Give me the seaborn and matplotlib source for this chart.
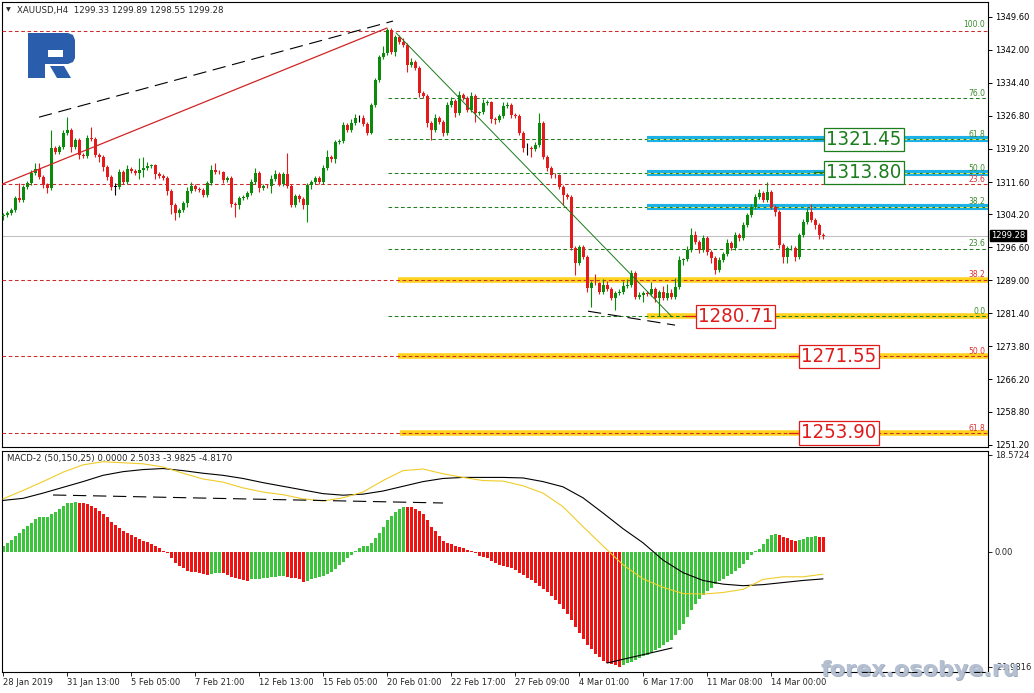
# %%
import numpy as np
import matplotlib.pyplot as plt
import seaborn as sns
from matplotlib import font_manager
from matplotlib.patches import Polygon, Rectangle

# %% candles (H4, one per bar, open = previous close)
first_open = 1303.8
closes = [
    1304.0, 1304.5, 1305.2, 1307.9, 1307.5, 1310.5, 1311.4, 1313.7, 1314.6, 1312.8,
    1310.9, 1310.2, 1319.4, 1318.5, 1319.6, 1322.9, 1323.6, 1319.6, 1321.3, 1317.8,
    1317.6, 1321.7, 1321.5, 1317.8, 1317.4, 1315.1, 1312.8, 1310.5, 1310.5, 1313.9,
    1311.6, 1314.6, 1314.1, 1313.7, 1314.4, 1314.8, 1315.3, 1315.4, 1313.4, 1313.0,
    1312.5, 1309.5, 1306.3, 1304.5, 1305.2, 1306.8, 1309.5, 1310.7, 1310.0, 1309.8,
    1308.6, 1311.4, 1314.4, 1313.9, 1313.8, 1312.1, 1312.5, 1306.5, 1306.3, 1307.9,
    1308.2, 1309.1, 1311.6, 1313.7, 1310.2, 1310.7, 1310.6, 1312.3, 1313.4, 1311.1,
    1313.4, 1310.7, 1306.3, 1308.4, 1307.7, 1306.3, 1310.9, 1311.6, 1312.5, 1311.6,
    1314.8, 1317.4, 1316.9, 1320.8, 1321.0, 1324.7, 1323.6, 1325.2, 1326.3, 1326.3,
    1324.9, 1322.9, 1329.3, 1335.0, 1340.3, 1341.3, 1346.5, 1341.5, 1344.9, 1343.8,
    1343.1, 1338.5, 1339.2, 1337.8, 1332.1, 1331.4, 1325.2, 1323.6, 1326.3, 1325.4,
    1322.9, 1329.3, 1330.2, 1327.5, 1331.6, 1330.9, 1328.2, 1331.4, 1327.5, 1327.6,
    1329.8, 1329.9, 1326.1, 1325.9, 1326.8, 1329.1, 1329.3, 1327.0, 1326.8, 1322.9,
    1319.4, 1319.4, 1319.2, 1320.1, 1325.2, 1317.4, 1314.8, 1313.2, 1313.1, 1310.5,
    1308.6, 1308.2, 1296.4, 1293.0, 1296.7, 1294.4, 1287.2, 1288.4, 1288.3, 1286.3,
    1287.9, 1287.0, 1284.9, 1286.1, 1286.2, 1287.7, 1287.9, 1290.7, 1285.2, 1285.6,
    1286.1, 1285.9, 1287.0, 1284.9, 1286.3, 1284.9, 1286.1, 1285.2, 1287.5, 1293.7,
    1293.8, 1296.0, 1299.4, 1297.8, 1296.0, 1298.7, 1295.5, 1294.1, 1291.4, 1293.7,
    1295.0, 1297.6, 1296.4, 1299.4, 1298.7, 1301.7, 1304.0, 1305.9, 1308.2, 1309.1,
    1307.5, 1309.3, 1305.9, 1304.7, 1297.1, 1294.4, 1296.4, 1296.5, 1294.4, 1299.4,
    1302.4, 1304.7, 1302.9, 1301.7, 1299.4, 1299.28,
]
wick_up = [
    0.5, 0.4, 0.4, 0.4, 3.5, 0.4, 0.4, 0.6, 1.4, 1.4,
    0.4, 0.4, 4.1, 0.5, 0.4, 0.7, 3.0, 0.4, 0.4, 0.4,
    0.4, 0.6, 2.5, 0.4, 0.4, 0.4, 0.4, 0.4, 0.8, 0.6,
    0.4, 1.0, 0.4, 0.4, 2.7, 2.5, 1.0, 0.4, 0.4, 0.4,
    0.4, 0.4, 0.4, 0.4, 0.4, 0.5, 1.0, 1.0, 0.4, 0.4,
    0.4, 0.4, 1.2, 1.5, 0.4, 0.4, 0.4, 0.4, 0.4, 0.4,
    0.4, 0.4, 0.6, 1.2, 0.4, 0.4, 0.4, 0.8, 1.0, 0.4,
    0.4, 4.9, 0.4, 0.4, 0.4, 0.4, 0.4, 0.4, 0.4, 0.4,
    0.6, 1.5, 0.4, 0.4, 0.4, 0.6, 0.4, 0.8, 1.0, 0.8,
    0.6, 0.4, 0.4, 0.4, 0.6, 1.5, 0.5, 0.4, 0.4, 0.5,
    1.0, 0.4, 0.8, 0.4, 0.4, 0.4, 0.4, 0.4, 1.0, 0.4,
    0.4, 0.8, 1.0, 0.4, 1.0, 0.4, 0.4, 1.0, 0.4, 0.4,
    0.8, 0.6, 0.4, 0.4, 0.4, 1.0, 0.6, 0.4, 0.4, 0.4,
    0.4, 1.2, 0.4, 0.8, 2.3, 0.4, 0.4, 0.4, 0.5, 0.4,
    0.4, 0.5, 0.4, 0.4, 0.5, 0.4, 0.4, 0.5, 2.0, 0.4,
    1.5, 1.0, 0.4, 0.4, 0.8, 1.2, 1.5, 0.6, 0.4, 0.8,
    0.4, 0.4, 1.5, 0.4, 0.4, 1.5, 2.0, 1.0, 2.0, 1.0,
    0.4, 0.8, 1.6, 1.0, 0.4, 0.8, 0.4, 0.4, 0.4, 0.6,
    0.6, 0.8, 0.4, 0.6, 0.4, 0.6, 0.4, 0.6, 0.6, 1.0,
    0.4, 2.3, 0.4, 0.4, 0.4, 0.4, 0.4, 0.6, 0.4, 0.4,
    0.6, 1.0, 1.8, 0.4, 0.4, 0.5,
]
wick_dn = [
    1.0, 0.4, 0.4, 0.5, 0.4, 0.4, 0.4, 0.4, 0.4, 0.4,
    0.6, 1.1, 0.4, 0.4, 0.4, 0.4, 0.4, 1.0, 0.4, 0.8,
    0.4, 0.4, 0.4, 0.4, 1.2, 1.0, 0.8, 0.8, 2.0, 0.4,
    0.4, 0.4, 0.4, 0.4, 1.4, 1.6, 0.4, 0.4, 1.0, 0.4,
    0.4, 0.8, 2.0, 1.6, 1.0, 0.4, 1.0, 0.4, 0.4, 0.4,
    0.4, 0.4, 0.4, 0.4, 0.4, 0.8, 0.4, 0.6, 2.7, 0.8,
    0.4, 0.4, 0.4, 0.4, 0.8, 0.4, 0.4, 1.5, 0.4, 0.4,
    0.4, 0.4, 0.5, 0.4, 0.6, 1.0, 3.9, 1.0, 0.4, 0.4,
    0.4, 0.4, 0.8, 1.0, 0.4, 0.4, 0.4, 0.4, 0.4, 0.8,
    0.4, 0.6, 0.3, 0.4, 0.4, 0.4, 0.4, 0.4, 1.0, 0.4,
    0.4, 1.6, 0.4, 0.4, 1.0, 0.4, 1.0, 2.3, 0.4, 0.4,
    0.8, 0.4, 0.4, 1.0, 0.4, 0.4, 0.6, 0.4, 2.0, 0.4,
    0.4, 0.4, 1.0, 1.0, 0.4, 0.4, 0.4, 0.6, 0.4, 0.5,
    1.0, 1.7, 1.8, 0.4, 0.4, 0.5, 0.6, 0.6, 0.5, 0.5,
    2.3, 0.4, 0.4, 2.8, 0.4, 0.5, 0.9, 4.3, 0.4, 0.5,
    0.4, 0.4, 0.5, 2.8, 0.4, 0.4, 0.4, 0.4, 0.5, 0.4,
    1.5, 0.5, 0.4, 0.8, 4.2, 0.4, 0.4, 0.4, 0.4, 0.4,
    1.2, 0.4, 0.4, 0.4, 0.8, 0.4, 0.6, 1.2, 1.0, 0.4,
    0.4, 0.4, 0.4, 0.4, 0.6, 0.4, 0.4, 0.4, 0.4, 0.4,
    0.6, 0.4, 0.4, 1.0, 0.6, 1.4, 1.5, 0.4, 1.0, 0.4,
    0.4, 0.4, 0.4, 0.8, 1.0, 0.7,
]

# %% MACD-2 histogram (one per bar) and the two lines (every 5th bar)
macd_hist = [
    1.08, 1.72, 2.23, 3.0, 3.63, 4.27, 4.9, 5.54, 6.18, 6.56,
    6.56, 6.56, 7.2, 7.65, 8.16, 8.8, 9.24, 9.37, 9.5, 9.37,
    9.24, 9.11, 8.73, 8.41, 7.84, 7.2, 6.56, 5.74, 5.1, 4.46,
    4.0, 3.63, 3.19, 2.74, 2.36, 2.1, 1.85, 1.47, 1.08, 0.64,
    0.19, -0.32, -1.27, -2.1, -2.74, -3.19, -3.63, -3.82, -3.95, -4.14,
    -4.33, -4.46, -4.27, -4.14, -4.0, -4.14, -4.46, -4.78, -4.97, -5.23,
    -5.42, -5.54, -5.29, -5.16, -5.16, -5.1, -5.03, -4.9, -4.78, -4.65,
    -4.65, -4.78, -4.97, -5.1, -5.23, -5.74, -5.54, -5.29, -5.1, -4.9,
    -4.65, -4.27, -3.82, -3.38, -2.55, -1.91, -1.27, -0.64, 0.19, 0.64,
    1.08, 1.08, 1.59, 2.55, 3.63, 4.65, 6.05, 6.82, 7.65, 8.09,
    8.6, 8.55, 8.48, 8.09, 7.84, 7.2, 6.05, 4.65, 4.0, 3.0,
    2.1, 1.72, 1.47, 1.08, 0.83, 0.64, 0.32, 0.13, -0.32, -0.83,
    -1.08, -1.27, -1.72, -2.23, -2.55, -2.8, -2.95, -3.15, -3.5, -4.0,
    -4.47, -5.0, -5.47, -5.93, -6.47, -7.07, -7.73, -8.4, -9.2, -9.93,
    -10.87, -11.87, -13.07, -14.33, -15.53, -16.73, -17.8, -18.67, -19.47, -20.2,
    -20.87, -21.27, -21.53, -21.73, -21.98, -21.67, -21.33, -21.0, -20.67, -20.33,
    -20.0, -19.67, -19.33, -18.87, -18.4, -17.87, -17.33, -16.87, -16.0, -15.0,
    -13.73, -12.4, -11.07, -10.0, -9.07, -8.2, -7.47, -6.87, -6.2, -5.67,
    -5.13, -4.6, -4.2, -3.67, -3.07, -2.33, -1.53, -0.6, 0.07, 0.47,
    1.47, 2.47, 3.13, 3.47, 3.2, 2.9, 2.55, 2.33, 2.07, 2.2,
    2.47, 2.73, 2.87, 2.93, 2.87, 2.73,
]
line_step = 5
macd_yellow = [
    10.1, 11.7, 13.4, 15.2, 16.6, 17.2, 17.0, 16.8, 16.2, 15.0,
    13.9, 13.3, 12.2, 11.4, 10.9, 10.1, 9.7, 10.3, 11.4, 13.6,
    15.5, 15.8, 14.9, 14.2, 13.6, 13.5, 12.6, 11.2, 8.6, 4.8,
    1.1, -2.5, -5.2, -6.8, -8.0, -8.1, -7.8, -7.2, -5.3, -4.8,
    -4.8, -4.3,
]
macd_black = [
    9.8, 10.2, 11.2, 12.3, 13.4, 14.6, 15.3, 15.7, 15.9, 15.5,
    15.0, 14.6, 14.0, 13.2, 12.5, 11.8, 11.1, 10.8, 11.0, 11.6,
    12.5, 13.4, 14.0, 14.2, 14.2, 14.2, 14.1, 13.4, 12.4, 10.3,
    7.4, 4.4, 1.7, -1.6, -4.0, -5.5, -6.2, -6.5, -6.3, -5.9,
    -5.5, -5.2,
]

# %% axes text
header = 'XAUUSD,H4  1299.33 1299.89 1298.55 1299.28'
macd_title = 'MACD-2 (50,150,25) 0.0000 2.5033 -3.9825 -4.8170'
last_price = 1299.28
price_ticks = [1349.6, 1342.0, 1334.4, 1326.8, 1319.2, 1311.6, 1304.2,
               1296.6, 1289.0, 1281.4, 1273.8, 1266.2, 1258.8, 1251.2]
price_tick_labels = ['1349.60', '1342.00', '1334.40', '1326.80', '1319.20', '1311.60', '1304.20',
                     '1296.60', '1289.00', '1281.40', '1273.80', '1266.20', '1258.80', '1251.20']
macd_ticks = [18.5724, 0.0, -21.9816]
macd_tick_labels = ['18.5724', '0.00', '-21.9816']
date_ticks = [0, 16, 32, 48, 64, 80, 96, 112, 128, 144, 160, 176, 192]
date_labels = ['28 Jan 2019', '31 Jan 13:00', '5 Feb 05:00', '7 Feb 21:00', '12 Feb 13:00',
               '15 Feb 05:00', '20 Feb 01:00', '22 Feb 17:00', '27 Feb 09:00', '4 Mar 01:00',
               '6 Mar 17:00', '11 Mar 08:00', '14 Mar 00:00']

# %% drawn objects
red_fib_levels = ['0.0', '23.6', '38.2', '50.0', '61.8']
red_fib_prices = [1346.35, 1311.03, 1289.18, 1271.53, 1253.87]
red_fib_start = -0.25
green_fib_levels = ['0.0', '23.6', '38.2', '50.0', '61.8', '76.0', '100.0']
green_fib_prices = [1280.71, 1296.27, 1305.89, 1313.67, 1321.45, 1330.81, 1346.63]
green_fib_start = 96.25

cyan_band_prices = [1321.45, 1313.67, 1305.89]
cyan_band_start = [161, 161, 161]
gold_band_prices = [1289.18, 1280.71, 1271.53, 1253.87]
gold_band_start = [98.75, 161, 98.75, 99.25]

target_labels = ['1321.45', '1313.80', '1280.71', '1271.55', '1253.90']
target_prices = [1321.45, 1313.80, 1280.71, 1271.55, 1253.90]
target_x = [215.25, 215.25, 183.1, 209.0, 209.0]
target_up = [True, True, False, False, False]

trend_red = ([-0.25, 96.0], [1311.1, 1347.0])
trend_black_top = ([9.0, 97.5], [1326.5, 1348.6])
trend_green = ([98.25, 167.25], [1345.9, 1280.6])
trend_black_low = ([146.25, 168.0], [1281.9, 1278.7])
macd_trend_dash = ([12.5, 110.0], [10.84, 9.31])
macd_trend_low = ([151.0, 167.25], [-21.28, -18.41])

# %% style
sns.set_style('white')
plt.rcParams['font.family'] = ['DejaVu Sans']
names = {f.name for f in font_manager.fontManager.ttflist}
cond = any(f.name == 'DejaVu Sans' and f.stretch == 'condensed'
           for f in font_manager.fontManager.ttflist)
if 'Liberation Sans Narrow' in names:
    big_font, big_size, big_stretch = 'Liberation Sans Narrow', 17, 'normal'
elif cond:
    big_font, big_size, big_stretch = 'DejaVu Sans', 14.6, 'condensed'
else:
    big_font, big_size, big_stretch = 'DejaVu Sans', 13, 'normal'

GREEN_C = '#0b8a0b'
RED_C = '#e51a1a'
FIB_G = '#1f7f1f'
FIB_R = '#cc2b2b'
CYAN = '#1cb2e6'
GOLD = '#ffd21e'
DASH = (0, (3.5, 2.5))

W, H = 1034, 693
fig = plt.figure(figsize=(W / 100, H / 100), dpi=100)
ax = fig.add_axes([2 / W, 1 - 447 / H, 986 / W, 445 / H])
axm = fig.add_axes([2 / W, 1 - 672 / H, 986 / W, 221 / H])

c = np.array(closes)
o = np.r_[first_open, c[:-1]]
hi = np.maximum(o, c) + np.array(wick_up)
lo = np.minimum(o, c) - np.array(wick_dn)
idx = np.arange(len(c))
cols = np.where(c > o, GREEN_C, np.where(c < o, RED_C, 'black'))

# bands behind everything
for p, s in zip(cyan_band_prices, cyan_band_start):
    ax.hlines(p, s, 246.25, color=CYAN, lw=4.4, zorder=1)
for p, s in zip(gold_band_prices, gold_band_start):
    ax.hlines(p, s, 246.25, color=GOLD, lw=4.0, zorder=1)

# fibonacci grids
for lv, p in zip(red_fib_levels, red_fib_prices):
    ax.hlines(p, red_fib_start, 246.25, color=FIB_R, lw=0.75, linestyles=DASH, zorder=2.6)
    if lv != '0.0':
        ax.annotate(lv, (245.6, p), xytext=(0, 0.3), textcoords='offset points',
                    ha='right', va='bottom', fontsize=5.5, color='#dd3030', zorder=6)
for lv, p in zip(green_fib_levels, green_fib_prices):
    if lv != '100.0':
        ax.hlines(p, green_fib_start, 246.25, color=FIB_G, lw=0.75, linestyles=DASH, zorder=2)
    ax.annotate(lv, (245.6, p), xytext=(0, 0.3), textcoords='offset points',
                ha='right', va='bottom', fontsize=5.5, color='#3c8c2c', zorder=6)
for p, s in zip(cyan_band_prices, cyan_band_start):
    ax.hlines(p, s, 246.25, color='#e4e46a', lw=0.75, linestyles=DASH, zorder=2.5)

# last price line
ax.axhline(last_price, color='#c0c0c0', lw=0.75, zorder=1.5)

# candles
ax.vlines(idx, lo, hi, colors=cols, lw=0.8, zorder=3)
body = np.abs(c - o)
flat = body < 0.05
ax.bar(idx, np.where(flat, 0.14, body), bottom=np.where(flat, c - 0.07, np.minimum(o, c)),
       width=0.75, color=cols, linewidth=0, zorder=3.2)

# trend lines
ax.plot(*trend_red, color='#d02424', lw=0.9, zorder=4)
ax.plot(*trend_black_top, color='black', lw=0.8, ls=(0, (12, 6)), zorder=4)
ax.plot(*trend_green, color='#1a7a1a', lw=0.7, zorder=4)
ax.plot(*trend_black_low, color='black', lw=0.8, ls=(0, (12, 6)), zorder=4)

# target price labels
for t, p, x, up in zip(target_labels, target_prices, target_x, target_up):
    col = '#1b7d1b' if up else '#e01b1b'
    ax.plot([x - 12.6, x - 9.5], [p, p], color=col, lw=0.9, zorder=5)
    ax.text(x, p, t, ha='center', va='center', color=col, fontsize=big_size,
            family=[big_font, 'DejaVu Sans'], fontstretch=big_stretch, zorder=6,
            bbox=dict(boxstyle='square,pad=0.1', fc='white', ec=col, lw=0.9))

ax.text(1.003, last_price, '1299.28', transform=ax.get_yaxis_transform(), ha='left',
        va='center', color='white', fontsize=6, zorder=7, clip_on=False,
        bbox=dict(boxstyle='square,pad=0.12', fc='black', ec='black'))

ax.set_xlim(-0.25, 246.25)
ax.set_ylim(1250.68, 1352.98)
ax.set_xticks([])
ax.yaxis.tick_right()
ax.set_yticks(price_ticks)
ax.set_yticklabels(price_tick_labels)
ax.tick_params(axis='y', direction='out', length=3, width=0.7, labelsize=6, pad=2,
               right=True, colors='black')

# %% MACD panel
hist = np.array(macd_hist)
prev = np.r_[-np.inf, hist[:-1]]
hcols = np.where(hist >= prev, '#3cc43c', '#ee1414')
axm.bar(idx, hist, width=0.75, color=hcols, linewidth=0, zorder=2)
line_idx = np.arange(len(macd_yellow)) * line_step
sns.lineplot(x=line_idx, y=macd_black, ax=axm, color='black', lw=0.8, zorder=3)
sns.lineplot(x=line_idx, y=macd_yellow, ax=axm, color='#f0cc2a', lw=0.8, zorder=3)
axm.plot(*macd_trend_dash, color='black', lw=0.8, ls=(0, (12, 6)), zorder=4)
axm.plot(*macd_trend_low, color='black', lw=0.8, zorder=4)

axm.set_xlim(-0.25, 246.25)
axm.set_ylim(-23.0, 19.25)
axm.yaxis.tick_right()
axm.set_yticks(macd_ticks)
axm.set_yticklabels(macd_tick_labels)
axm.set_xticks(date_ticks)
axm.set_xticklabels(date_labels, ha='left')
axm.tick_params(axis='y', direction='out', length=3, width=0.7, labelsize=6, pad=2,
                right=True)
axm.tick_params(axis='x', direction='out', length=3, width=0.7, labelsize=6, pad=1.5,
                bottom=True)

for a in (ax, axm):
    a.set_facecolor('white')
    for sp in a.spines.values():
        sp.set_color('black')
        sp.set_linewidth(0.8)

# %% header, logo, watermark
fig.text(6 / W, 1 - 10 / H, '\u25bc', fontsize=4.5, va='center', ha='left')
fig.text(17 / W, 1 - 10 / H, header, fontsize=6.2, va='center', ha='left')
fig.text(7 / W, 1 - 459 / H, macd_title, fontsize=6.2, va='center', ha='left')

ov = fig.add_axes([0, 0, 1, 1], zorder=10)
ov.set_xlim(0, W)
ov.set_ylim(H, 0)
ov.axis('off')
ov.patch.set_alpha(0)
logo_c = '#2a5dab'
ov.add_patch(Polygon([(28, 33), (68, 33), (73, 35), (75, 40), (75, 58), (73, 62), (68, 64),
                      (45, 64), (45, 78), (28, 78)], closed=True, fc=logo_c, ec='none'))
ov.add_patch(Rectangle((48, 50), 15, 7, fc='white', ec='none'))
ov.add_patch(Polygon([(50, 66), (64, 66), (71, 78), (57, 78)], closed=True, fc=logo_c, ec='none'))

ov.text(921, 671, 'forex.osobye.ru', ha='center', va='center', fontsize=16,
        fontweight='bold', color='#7d8da6', alpha=0.7)
ov.text(920, 670, 'forex.osobye.ru', ha='center', va='center', fontsize=16,
        fontweight='bold', color='#b4c0d2')

fig.savefig('out.png', dpi=100)
